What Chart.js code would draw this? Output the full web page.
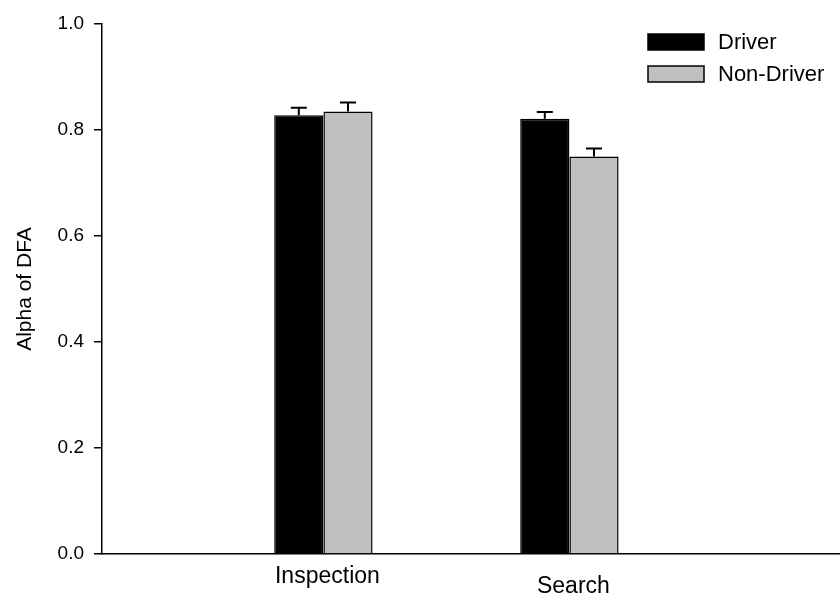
<!DOCTYPE html>
<html>
<head>
<meta charset="utf-8">
<script src="https://cdn.jsdelivr.net/npm/chart.js@4"></script>
<style>
  html, body { margin: 0; padding: 0; background: #fff; }
  #wrap { width: 840px; height: 597px; }
</style>
</head>
<body>
<div id="wrap"><canvas id="dfaChart"></canvas></div>
<script>
var categories = ['Inspection', 'Search'];
var seriesNames = ['Driver', 'Non-Driver'];
var driverAlpha = [0.828, 0.821];
var nonDriverAlpha = [0.835, 0.750];
var driverErr = [0.014, 0.013];
var nonDriverErr = [0.017, 0.015];
var yTicks = [0.0, 0.2, 0.4, 0.6, 0.8, 1.0];

var FONT = "'Liberation Sans', Arial, sans-serif";

function toPoints(vals) {
  return vals.map((v, i) => ({ x: i + 1, y: v }));
}

// upward-only error bars with a cap
var errorBars = {
  id: 'errorBars',
  afterDatasetsDraw(chart) {
    var ctx = chart.ctx, y = chart.scales.y;
    ctx.save();
    ctx.strokeStyle = '#000';
    ctx.lineWidth = 2;
    chart.data.datasets.forEach((ds, di) => {
      chart.getDatasetMeta(di).data.forEach((bar, i) => {
        var top = y.getPixelForValue(ds.data[i].y + ds.errors[i]);
        ctx.beginPath();
        ctx.moveTo(bar.x, bar.y);
        ctx.lineTo(bar.x, top);
        ctx.moveTo(bar.x - 8, top);
        ctx.lineTo(bar.x + 8, top);
        ctx.stroke();
      });
    });
    ctx.restore();
  }
};

// category names under the axis (the second one sits a little lower, as in the figure)
var catLabels = {
  id: 'catLabels',
  afterDraw(chart) {
    var ctx = chart.ctx, x = chart.scales.x;
    var base = chart.chartArea.bottom;
    var drop = [29, 39];
    ctx.save();
    ctx.fillStyle = '#000';
    ctx.font = '23px ' + FONT;
    ctx.textAlign = 'center';
    ctx.textBaseline = 'alphabetic';
    categories.forEach((c, i) => {
      ctx.fillText(c, x.getPixelForValue(i + 1) + 4, base + drop[i]);
    });
    ctx.restore();
  }
};

// legend stacked in the top right corner of the plot
var boxLegend = {
  id: 'boxLegend',
  afterDraw(chart) {
    var ctx = chart.ctx;
    ctx.save();
    ctx.font = '22px ' + FONT;
    ctx.textBaseline = 'middle';
    ctx.textAlign = 'left';
    chart.data.datasets.forEach((ds, i) => {
      var cy = 42 + i * 32;
      ctx.fillStyle = ds.backgroundColor;
      ctx.fillRect(648, cy - 8, 56, 16);
      ctx.strokeStyle = '#000';
      ctx.lineWidth = 1.5;
      ctx.strokeRect(648, cy - 8, 56, 16);
      ctx.fillStyle = '#000';
      ctx.fillText(ds.label, 718, cy + 1);
    });
    ctx.restore();
  }
};

var dfaChart = new Chart(document.getElementById('dfaChart').getContext('2d'), {
  type: 'bar',
  data: {
    datasets: [
      { label: seriesNames[0], data: toPoints(driverAlpha), errors: driverErr,
        backgroundColor: '#000000', borderColor: '#000', borderWidth: 1.5 },
      { label: seriesNames[1], data: toPoints(nonDriverAlpha), errors: nonDriverErr,
        backgroundColor: '#c0c0c0', borderColor: '#000', borderWidth: 1.5 }
    ]
  },
  options: {
    responsive: true,
    maintainAspectRatio: false,
    animation: false,
    categoryPercentage: 0.4,
    barPercentage: 1.0,
    layout: { padding: { top: 24, right: 0, bottom: 0, left: 0 } },
    plugins: { legend: { display: false }, tooltip: { enabled: false } },
    scales: {
      x: {
        type: 'linear',
        offset: false,
        min: 0.1,
        max: 3.1,
        afterBuildTicks: s => { s.ticks = categories.map((c, i) => ({ value: i + 1 })); },
        afterFit: s => { s.height = 43; },
        ticks: { display: false },
        grid: { display: true, drawOnChartArea: false, drawTicks: false },
        border: { color: '#000', width: 1.5 }
      },
      y: {
        min: 0,
        max: 1,
        afterBuildTicks: s => { s.ticks = yTicks.map(v => ({ value: v })); },
        afterFit: s => { s.width = 102; },
        ticks: {
          color: '#000',
          padding: 10,
          font: { family: FONT, size: 19 },
          callback: v => Number(v).toFixed(1)
        },
        grid: { drawOnChartArea: false, tickLength: 8, color: '#000', lineWidth: 1.5 },
        border: { color: '#000', width: 1.5 },
        title: {
          display: true,
          text: 'Alpha of DFA',
          color: '#000',
          font: { family: FONT, size: 21 },
          padding: { top: 13, bottom: 0 }
        }
      }
    }
  },
  plugins: [errorBars, catLabels, boxLegend]
});
</script>
</body>
</html>
